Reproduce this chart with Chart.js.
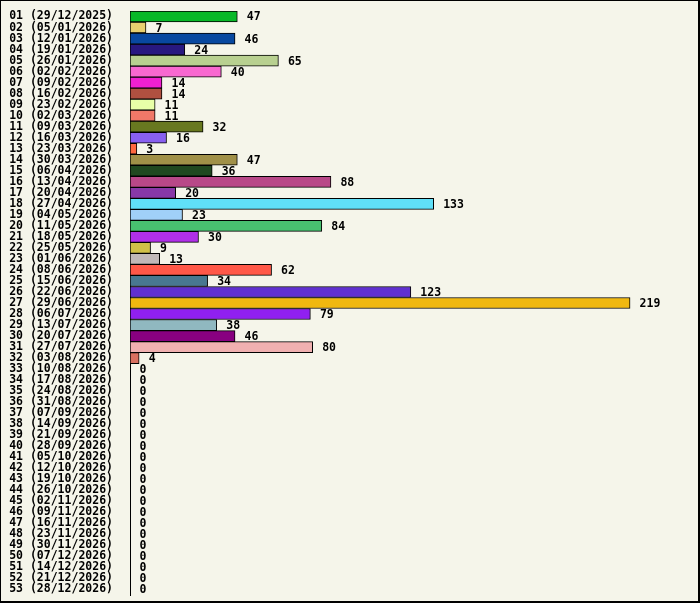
<!DOCTYPE html>
<html>
<head>
<meta charset="utf-8">
<script src="https://cdn.jsdelivr.net/npm/chart.js@4.4.0/dist/chart.umd.min.js"></script>
<style>
  html, body { margin: 0; padding: 0; background: #f5f5ea; }
  #wrap { width: 700px; height: 603px; }
</style>
</head>
<body>
<div id="wrap"><canvas id="weeks" width="700" height="603"></canvas></div>
<script>
// Week labels
const weeks = [
    '01 (29/12/2025)', '02 (05/01/2026)', '03 (12/01/2026)', '04 (19/01/2026)', '05 (26/01/2026)',
    '06 (02/02/2026)', '07 (09/02/2026)', '08 (16/02/2026)', '09 (23/02/2026)', '10 (02/03/2026)',
    '11 (09/03/2026)', '12 (16/03/2026)', '13 (23/03/2026)', '14 (30/03/2026)', '15 (06/04/2026)',
    '16 (13/04/2026)', '17 (20/04/2026)', '18 (27/04/2026)', '19 (04/05/2026)', '20 (11/05/2026)',
    '21 (18/05/2026)', '22 (25/05/2026)', '23 (01/06/2026)', '24 (08/06/2026)', '25 (15/06/2026)',
    '26 (22/06/2026)', '27 (29/06/2026)', '28 (06/07/2026)', '29 (13/07/2026)', '30 (20/07/2026)',
    '31 (27/07/2026)', '32 (03/08/2026)', '33 (10/08/2026)', '34 (17/08/2026)', '35 (24/08/2026)',
    '36 (31/08/2026)', '37 (07/09/2026)', '38 (14/09/2026)', '39 (21/09/2026)', '40 (28/09/2026)',
    '41 (05/10/2026)', '42 (12/10/2026)', '43 (19/10/2026)', '44 (26/10/2026)', '45 (02/11/2026)',
    '46 (09/11/2026)', '47 (16/11/2026)', '48 (23/11/2026)', '49 (30/11/2026)', '50 (07/12/2026)',
    '51 (14/12/2026)', '52 (21/12/2026)', '53 (28/12/2026)'
];

// Counts per week
const counts = [
    47, 7, 46, 24, 65, 40, 14, 14, 11, 11,
    32, 16, 3, 47, 36, 88, 20, 133, 23, 84,
    30, 9, 13, 62, 34, 123, 219, 79, 38, 46,
    80, 4, 0, 0, 0, 0, 0, 0, 0, 0,
    0, 0, 0, 0, 0, 0, 0, 0, 0, 0,
    0, 0, 0
];

// One colour per bar (weeks with 0 draw nothing)
const barColors = [
    '#08b828', '#e8d070', '#0848a0', '#281880', '#b8d090', '#f868d0', '#f020d0', '#b05040',
    '#e8ffa8', '#f07868', '#687820', '#8860f0', '#ff6840', '#a09048', '#204820', '#b84888',
    '#8838a8', '#60e0f8', '#a0d0f8', '#48c070', '#b030e8', '#d0c048', '#c0b8b8', '#ff5848',
    '#487890', '#6030d0', '#f0b810', '#9020f0', '#90b8c0', '#880080', '#f0b0b0', '#d87060'
];

const FONT_SIZE = 11.5;
const FONT = 'bold ' + FONT_SIZE + 'px "DejaVu Sans Mono", monospace';

// Background + frame (right/bottom edges a bit heavier, like the original)
const framePlugin = {
    id: 'frame',
    beforeDraw(chart) {
        const c = chart.ctx;
        const w = chart.width, h = chart.height;
        c.save();
        c.fillStyle = '#f5f5ea';
        c.fillRect(0, 0, w, h);
        c.fillStyle = '#000';
        c.fillRect(0, 0, w, 1);
        c.fillRect(0, 0, 1, h);
        c.fillRect(w - 2, 0, 2, h);
        c.fillRect(0, h - 2, w, 2);
        c.restore();
    }
};

// Value labels next to each bar
const valueLabels = {
    id: 'valueLabels',
    afterDatasetsDraw(chart) {
        const c = chart.ctx;
        const meta = chart.getDatasetMeta(0);
        c.save();
        c.font = FONT;
        c.fillStyle = '#000';
        c.textAlign = 'left';
        c.textBaseline = 'middle';
        meta.data.forEach((bar, i) => {
            c.fillText(String(counts[i]), bar.x + 9.5, bar.y + 1);
        });
        c.restore();
    }
};

const ctx = document.getElementById('weeks').getContext('2d');
new Chart(ctx, {
    type: 'bar',
    data: {
        labels: weeks,
        datasets: [{
            data: counts,
            backgroundColor: weeks.map((w, i) => barColors[i] || '#cccccc'),
            borderColor: '#000',
            borderWidth: 1,
            borderSkipped: false,
            barPercentage: 1,
            categoryPercentage: 1
        }]
    },
    options: {
        indexAxis: 'y',
        responsive: false,
        animation: false,
        devicePixelRatio: 1,
        layout: { padding: { top: 11, bottom: 8, left: 0, right: 22 } },
        plugins: {
            legend: { display: false },
            tooltip: { enabled: false }
        },
        scales: {
            x: {
                display: false,
                min: 0,
                max: 240
            },
            y: {
                grid: { display: false, drawTicks: false },
                border: { display: true, color: '#000', width: 1 },
                ticks: {
                    color: '#000',
                    font: { family: '"DejaVu Sans Mono", monospace', size: FONT_SIZE, weight: 'bold' },
                    padding: 17,
                    autoSkip: false
                },
                afterFit(scale) {
                    // fixed label column, no extra vertical padding from the tick padding
                    scale.width = 130;
                    scale.paddingTop = 0;
                    scale.paddingBottom = 0;
                }
            }
        }
    },
    plugins: [framePlugin, valueLabels]
});
</script>
</body>
</html>
